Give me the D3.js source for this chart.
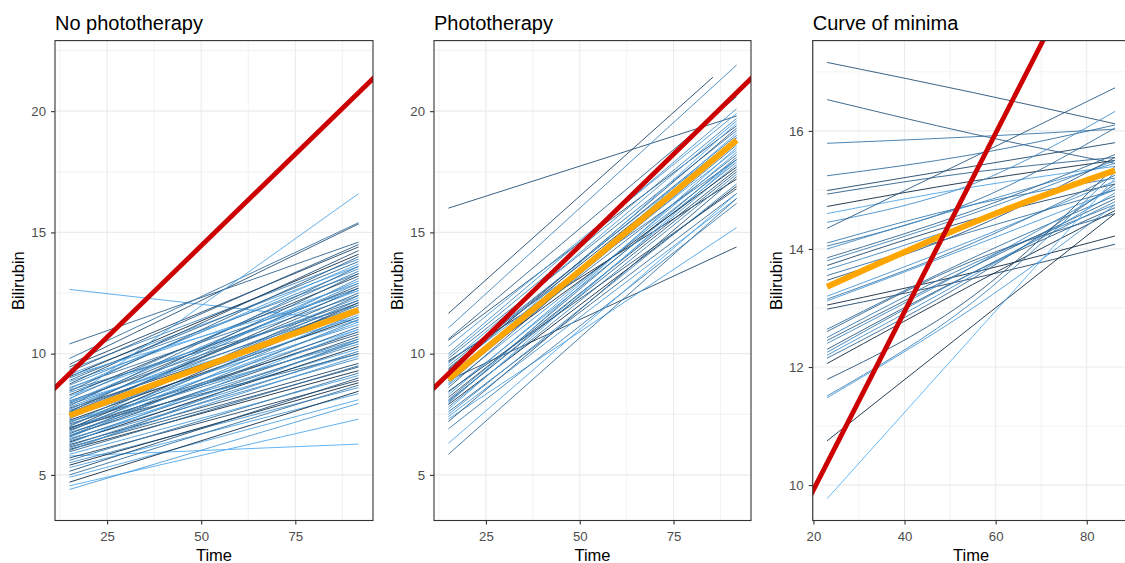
<!DOCTYPE html>
<html>
<head>
<meta charset="utf-8">
<script src="https://cdn.jsdelivr.net/npm/d3@7"></script>
<style>
  body { margin: 0; background: #fff; }
  text { font-family: "Liberation Sans", Arial, sans-serif; }
</style>
</head>
<body>
<svg id="chart" width="1125" height="563"></svg>
<script>
// ---- data ----
let panelTitles = ["No phototherapy", "Phototherapy", "Curve of minima"]

// reference line, same in all panels (time, bilirubin)
let redTimes = [0, 100]
let redValues = [6.9, 22.0]

// panel 1: each row = [value at first time, value at last time, shade 0..1]
let p1Times = [15, 91.8]
let p1Lines = [
  [12.65, 11.3, .85], [10.4, 14.6, .2], [9.8, 15.4, .3], [9.55, 15.35, .1], [9.45, 14.4, .05],
  [9.35, 13.9, .5], [9.25, 14.5, .15], [9.15, 13.6, .7], [9.05, 14.1, 0], [9.0, 13.3, .45],
  [8.9, 13.8, .25], [8.85, 12.9, .75], [8.75, 14.25, .1], [8.7, 13.5, .55], [8.6, 12.7, .35],
  [8.55, 13.7, .8], [8.45, 14.0, .2], [8.4, 12.4, .6], [8.3, 13.2, .05], [8.25, 12.6, .9],
  [8.15, 13.4, .4], [8.1, 16.6, .85], [8.05, 12.2, .25], [8.0, 13.0, .65], [7.95, 12.8, .15],
  [7.9, 11.9, .5], [7.85, 13.6, .3], [7.8, 12.3, .7], [7.75, 11.7, .05], [7.7, 12.9, .6],
  [7.65, 12.1, .35], [7.6, 11.4, .8], [7.55, 12.5, .2], [7.5, 11.8, .45], [7.45, 12.7, .1],
  [7.4, 11.2, .7], [7.35, 12.0, .3], [7.3, 13.1, .55], [7.25, 11.5, 0], [7.2, 11.0, .9],
  [7.15, 12.2, .4], [7.1, 10.8, .15], [7.05, 11.6, .65], [7.0, 12.4, .25], [6.95, 10.6, .5],
  [6.9, 11.3, .75], [6.85, 10.9, .05], [6.8, 11.9, .35], [6.75, 10.4, .6], [6.7, 11.1, .2],
  [6.65, 10.2, .85], [6.6, 10.7, .1], [6.55, 11.4, .45], [6.5, 10.0, .7], [6.45, 10.5, .3],
  [6.4, 9.8, .55], [6.35, 10.3, 0], [6.3, 11.0, .9], [6.25, 9.6, .05], [6.2, 10.1, .4],
  [6.15, 9.45, .15], [6.1, 9.9, .65], [6.05, 9.3, 0], [6.0, 10.6, .5], [5.95, 9.5, .25],
  [5.85, 9.1, .75], [5.78, 6.27, .95], [5.7, 8.9, .05], [5.6, 9.2, .35], [5.5, 8.6, .6],
  [5.4, 8.8, 0], [5.3, 8.35, .8], [5.15, 9.0, .1], [5.0, 8.7, .3], [4.9, 8.1, .85],
  [4.7, 8.45, 0], [4.55, 7.3, .9], [4.4, 7.95, .75], [8.0, 11.5, .9], [7.6, 13.3, .15],
  [7.2, 10.5, .6], [6.9, 12.1, .05], [6.6, 11.7, .5], [8.5, 12.0, .4], [9.1, 12.6, .95],
  [6.95, 10.0, .2]
]
let p1MeanTimes = [15, 53, 91.8]
let p1Mean = [7.45, 9.6, 11.8]

// panel 2
let p2Times = [15, 91.8]
let p2Lines = [
  [16.0, 19.8, .1], [11.06, 21.9, .5], [10.6, 20.6, .2], [10.55, 19.4, .1], [10.0, 20.1, .6],
  [9.8, 19.2, .35], [9.7, 17.2, 0], [9.6, 19.6, .7], [9.5, 18.9, .45], [9.4, 19.0, .25],
  [9.3, 18.4, .8], [9.2, 19.3, .15], [9.1, 18.7, .55], [9.0, 18.2, .3], [8.9, 19.5, .9],
  [8.8, 18.6, .4], [8.7, 18.0, .65], [8.6, 18.9, .2], [8.9, 14.4, .05], [8.4, 17.9, .5],
  [8.3, 18.3, .75], [8.2, 17.6, .1], [8.1, 18.1, .35], [8.0, 17.8, .6], [7.9, 16.9, 0],
  [7.8, 17.4, .45], [7.7, 18.0, .85], [7.6, 16.6, .25], [7.5, 17.0, .55], [7.4, 16.4, .7],
  [7.3, 15.2, .8], [7.2, 17.3, .15], [6.9, 16.2, .4], [6.3, 16.6, .9], [5.85, 16.4, .3],
  [9.9, 19.7, .5], [9.35, 18.8, .05], [8.75, 19.1, .95], [8.05, 17.5, .2], [10.3, 19.9, .7],
  [9.05, 17.7, 0], [7.95, 18.5, .65], [8.45, 16.8, .1], [9.65, 18.0, .4]
]
// one subject stops earlier
let p2ShortTimes = [15, 85.5]
let p2ShortLine = [11.66, 21.4, .05]
let p2MeanTimes = [15, 53, 91.8]
let p2Mean = [8.94, 13.8, 18.8]

// panel 3: each row = [value at t1, t2, t3, shade]
let p3Times = [23, 55, 86.2]
let p3Lines = [
  [17.16, 16.65, 16.12, .1], [16.53, 15.95, 15.45, .15], [15.79, 15.9, 16.03, .35],
  [15.24, 15.6, 16.1, .3], [14.99, 15.4, 15.8, .05], [14.93, 15.3, 15.55, .2],
  [14.72, 15.15, 15.5, 0], [14.6, 15.05, 15.4, .85], [14.45, 15.1, 16.33, .6],
  [14.35, 15.55, 16.73, .15], [14.1, 14.75, 15.2, .4], [14.05, 14.8, 16.05, .3],
  [14.0, 14.75, 15.45, .55], [13.85, 14.65, 15.6, .25], [13.8, 14.6, 15.5, .45],
  [13.72, 14.5, 15.1, .05], [13.65, 14.45, 15.35, .5], [13.47, 14.35, 15.55, .1],
  [13.2, 14.15, 15.15, .65], [13.15, 14.1, 15.25, .35], [13.12, 14.05, 15.0, .7],
  [13.05, 13.6, 14.22, 0], [12.98, 13.5, 14.08, .05], [12.64, 13.85, 14.9, .3],
  [12.5, 13.75, 14.75, .4], [12.45, 13.7, 14.85, .2], [12.4, 13.7, 15.05, .55],
  [12.3, 13.6, 14.7, .15], [12.25, 13.6, 14.8, .45], [12.2, 13.55, 14.95, .6],
  [12.15, 13.5, 15.1, .25], [12.06, 13.4, 14.65, 0], [11.79, 13.2, 15.4, .1],
  [11.51, 13.1, 15.3, .5], [11.48, 13.0, 14.75, .7], [10.75, 12.7, 14.6, 0],
  [9.77, 12.52, 15.2, 1], [13.55, 14.3, 15.0, .3], [12.6, 13.8, 14.6, .2]
]
let p3MeanTimes = [23, 40, 60, 86.2]
let p3Mean = [13.36, 13.95, 14.6, 15.33]

// axis settings
let p12XTicks = [25, 50, 75], p12XMinor = [12.5, 37.5, 62.5, 87.5]
let p12YTicks = [5, 10, 15, 20], p12YMinor = [7.5, 12.5, 17.5, 22.5]
let p12YLimits = [3.12, 22.91]
let p3XTicks = [20, 40, 60, 80], p3XMinor = [30, 50, 70]
let p3YTicks = [10, 12, 14, 16], p3YMinor = [11, 13, 15, 17]

// ---- drawing ----
let svg = d3.select("#chart")
let shade = d3.scalePow().exponent(0.5).domain([0, 1]).range(["#132B43", "#56B1F7"]).interpolate(d3.interpolateLab)
let plotTop = 40.6, plotBottom = 520.5

function expand (lo, hi) {
  let r = hi - lo
  return [lo - r * 0.05, hi + r * 0.05]
}

function drawPanel (i, left, width, xDom, yDom, xTicks, xMinor, yTicks, yMinor, series, mean) {
  let x = d3.scaleLinear().domain(xDom).range([left, left + width])
  let y = d3.scaleLinear().domain(yDom).range([plotBottom, plotTop])
  let g = svg.append("g")

  g.append("clipPath").attr("id", "clip" + i)
    .append("rect").attr("x", left).attr("y", plotTop).attr("width", width).attr("height", plotBottom - plotTop)

  let plot = g.append("g").attr("clip-path", `url(#clip${i})`)

  plot.selectAll("line.xminor").data(xMinor).enter().append("line")
    .attr("x1", d => x(d)).attr("x2", d => x(d)).attr("y1", plotTop).attr("y2", plotBottom)
    .style("stroke", "#EBEBEB").style("stroke-width", 0.6)
  plot.selectAll("line.yminor").data(yMinor).enter().append("line")
    .attr("y1", d => y(d)).attr("y2", d => y(d)).attr("x1", left).attr("x2", left + width)
    .style("stroke", "#EBEBEB").style("stroke-width", 0.6)
  plot.selectAll("line.xmajor").data(xTicks).enter().append("line")
    .attr("x1", d => x(d)).attr("x2", d => x(d)).attr("y1", plotTop).attr("y2", plotBottom)
    .style("stroke", "#EBEBEB").style("stroke-width", 1.1)
  plot.selectAll("line.ymajor").data(yTicks).enter().append("line")
    .attr("y1", d => y(d)).attr("y2", d => y(d)).attr("x1", left).attr("x2", left + width)
    .style("stroke", "#EBEBEB").style("stroke-width", 1.1)

  let line = d3.line().x(d => x(d[0])).y(d => y(d[1])).curve(d3.curveMonotoneX)

  plot.selectAll("path.subject").data(series).enter().append("path")
    .attr("d", d => line(d.pts))
    .style("fill", "none").style("stroke", d => shade(d.c))
    .style("stroke-width", 1).style("stroke-opacity", 0.9)

  plot.append("path").attr("d", line(mean))
    .style("fill", "none").style("stroke", "#FFA500").style("stroke-width", 6)
    .style("stroke-linecap", "butt")

  plot.append("path").attr("d", line(d3.zip(redTimes, redValues)))
    .style("fill", "none").style("stroke", "#CC0000").style("stroke-width", 4.8)

  g.append("rect").attr("x", left).attr("y", plotTop).attr("width", width).attr("height", plotBottom - plotTop)
    .style("fill", "none").style("stroke", "#333333").style("stroke-width", 1.1)

  let yAxis = g.append("g").attr("transform", `translate(${left},0)`)
    .call(d3.axisLeft(y).tickValues(yTicks).tickSize(4).tickPadding(5))
  let xAxis = g.append("g").attr("transform", `translate(0,${plotBottom})`)
    .call(d3.axisBottom(x).tickValues(xTicks).tickSize(4).tickPadding(7))
  ;[yAxis, xAxis].forEach(a => {
    a.select(".domain").remove()
    a.selectAll(".tick line").style("stroke", "#333333").style("stroke-width", 1.1)
    a.selectAll(".tick text").style("fill", "#4D4D4D").style("font-size", "13.2px")
      .style("font-family", '"Liberation Sans", Arial, sans-serif')
  })

  g.append("text").attr("x", left).attr("y", 30)
    .style("font-size", "20px").style("fill", "#000").text(panelTitles[i])
  g.append("text").attr("x", left + width / 2).attr("y", 560.5).attr("text-anchor", "middle")
    .style("font-size", "16.5px").style("fill", "#000").text("Time")
  g.append("text").attr("transform", `translate(${left - 31},${(plotTop + plotBottom) / 2}) rotate(-90)`)
    .attr("text-anchor", "middle")
    .style("font-size", "16.5px").style("fill", "#000").text("Bilirubin")
}

let s1 = p1Lines.map(r => ({ pts: d3.zip(p1Times, r.slice(0, 2)), c: r[2] }))
drawPanel(0, 55, 318, expand(p1Times[0], p1Times[1]), p12YLimits, p12XTicks, p12XMinor, p12YTicks, p12YMinor,
  s1, d3.zip(p1MeanTimes, p1Mean))

let s2 = p2Lines.map(r => ({ pts: d3.zip(p2Times, r.slice(0, 2)), c: r[2] }))
s2.push({ pts: d3.zip(p2ShortTimes, p2ShortLine.slice(0, 2)), c: p2ShortLine[2] })
drawPanel(1, 434, 317, expand(p2Times[0], p2Times[1]), p12YLimits, p12XTicks, p12XMinor, p12YTicks, p12YMinor,
  s2, d3.zip(p2MeanTimes, p2Mean))

let s3 = p3Lines.map(r => ({ pts: d3.zip(p3Times, r.slice(0, 3)), c: r[3] }))
let p3Vals = p3Lines.flatMap(r => r.slice(0, 3))
drawPanel(2, 812.7, 316.7, expand(p3Times[0], p3Times[2]), expand(d3.min(p3Vals), d3.max(p3Vals)),
  p3XTicks, p3XMinor, p3YTicks, p3YMinor, s3, d3.zip(p3MeanTimes, p3Mean))
</script>
</body>
</html>
